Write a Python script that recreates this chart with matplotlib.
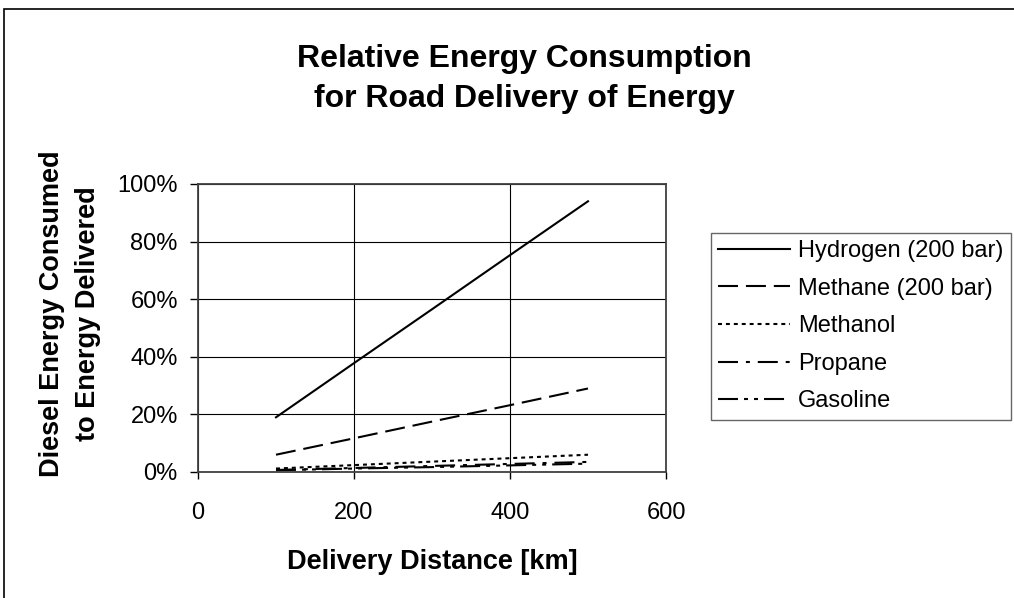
import matplotlib
matplotlib.use("Agg")
import matplotlib.pyplot as plt
from matplotlib.patches import Rectangle
from matplotlib.ticker import FuncFormatter

plt.rcParams["font.family"] = ["Liberation Sans", "DejaVu Sans"]

# delivery distance [km]
distance = [100, 200, 300, 400, 500]

# diesel energy consumed relative to energy delivered [%]
hydrogen = [19.0, 37.8, 56.5, 75.3, 94.0]
methane = [6.0, 11.7, 17.5, 23.2, 29.0]
methanol = [1.2, 2.4, 3.6, 4.8, 6.0]
propane = [0.7, 1.4, 2.1, 2.8, 3.5]
gasoline = [0.6, 1.2, 1.7, 2.3, 2.9]

series = [
    ("Hydrogen (200 bar)", hydrogen, "-"),
    ("Methane (200 bar)", methane, (0, (9.6, 3.8))),
    ("Methanol", methanol, (0, (1.9, 1.9))),
    ("Propane", propane, (0, (9.6, 3.8, 1.9, 3.8))),
    ("Gasoline", gasoline, (0, (9.6, 2.9, 1.9, 2.9, 1.9, 2.9))),
]

W, H = 1014, 598
fig = plt.figure(figsize=(W / 100, H / 100), dpi=100)

# outer chart border (cropped at right / bottom)
fig.patches.append(
    Rectangle((4 / W, -0.1), 1.2, 1 - 9 / H + 0.1, transform=fig.transFigure,
              fill=False, edgecolor="black", linewidth=1.2)
)

ax = fig.add_axes([198 / W, 1 - 472 / H, (666 - 198) / W, (472 - 184) / H])

for label, ys, ls in series:
    ax.plot(distance, ys, color="black", linewidth=1.5, linestyle=ls, label=label)

ax.set_xlim(0, 600)
ax.set_ylim(0, 100)
ax.set_xticks([0, 200, 400, 600])
ax.set_yticks(range(0, 101, 20))
ax.yaxis.set_major_formatter(FuncFormatter(lambda v, _: f"{v:.0f}%"))
ax.grid(True, color="black", linewidth=0.8)
ax.set_axisbelow(True)
for side in ax.spines:
    ax.spines[side].set_color("#404040")
    ax.spines[side].set_linewidth(1.3)

ax.tick_params(axis="x", direction="out", length=5, width=1, labelsize=17, pad=16.5)
ax.tick_params(axis="y", direction="out", length=5.5, width=1, labelsize=17, pad=9)

ax.set_xlabel("Delivery Distance [km]", fontsize=19.5, fontweight="bold", labelpad=18)

fig.text(70 / W, 1 - 314 / H, "Diesel Energy Consumed\nto Energy Delivered",
         rotation=90, ha="center", va="center", multialignment="center",
         fontsize=19.5, fontweight="bold", linespacing=1.5)

fig.text(524 / W, 1 - 107 / H, "Relative Energy Consumption\nfor Road Delivery of Energy",
         ha="center", va="baseline", multialignment="center",
         fontsize=23, fontweight="bold", linespacing=1.45)

leg = ax.legend(loc="upper left", bbox_to_anchor=(711 / W, 1 - 233 / H),
                bbox_transform=fig.transFigure, fontsize=17, frameon=True,
                fancybox=False, borderaxespad=0, borderpad=0.3,
                handlelength=3.05, handletextpad=0.34, labelspacing=0.66)
leg.get_frame().set_edgecolor("#404040")
leg.get_frame().set_linewidth(1.0)

fig.savefig("out.png", dpi=100)
